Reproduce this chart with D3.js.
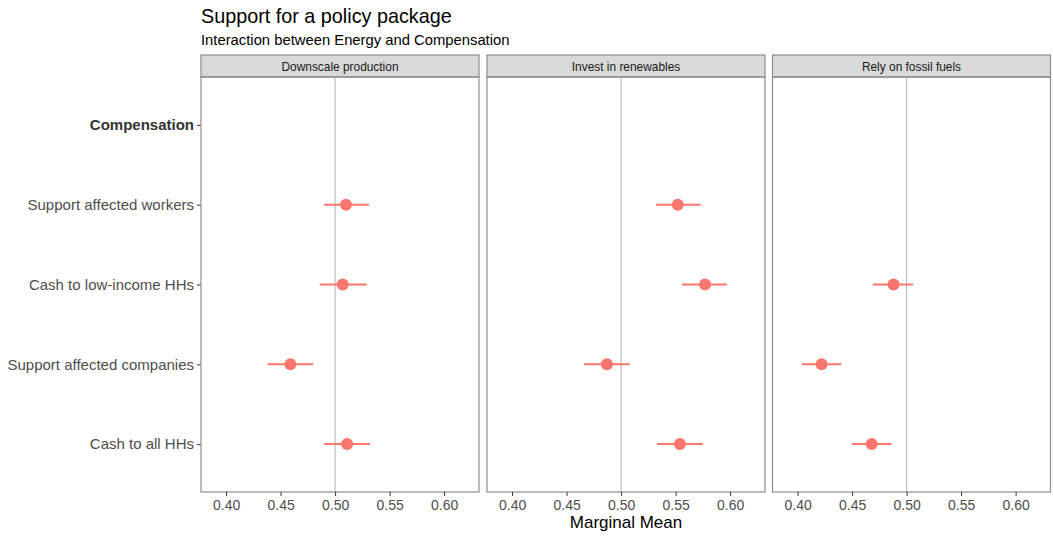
<!DOCTYPE html>
<html><head><meta charset="utf-8">
<script src="https://cdn.jsdelivr.net/npm/d3@7"></script>
<style>body{margin:0;background:#fff;} svg{display:block;font-family:"Liberation Sans",Arial,Helvetica,sans-serif;}</style>
</head><body><svg id="c" width="1053" height="536"></svg>
<script>
const levels = ["Compensation","Support affected workers","Cash to low-income HHs","Support affected companies","Cash to all HHs"];
const panels = ["Downscale production","Invest in renewables","Rely on fossil fuels"];
const estimate = [
  [null, 0.510, 0.507, 0.459, 0.511],
  [null, 0.552, 0.577, 0.487, 0.554],
  [null, null, 0.488, 0.422, 0.468]
];
const lower = [
  [null, 0.490, 0.486, 0.438, 0.490],
  [null, 0.532, 0.556, 0.466, 0.533],
  [null, null, 0.469, 0.404, 0.450]
];
const upper = [
  [null, 0.531, 0.529, 0.480, 0.532],
  [null, 0.573, 0.597, 0.508, 0.575],
  [null, null, 0.506, 0.440, 0.486]
];
const xTicks = [0.40, 0.45, 0.50, 0.55, 0.60];
const refValue = 0.5;

const svg = d3.select("#c");
const panelLeft = [201, 487, 772.5], panelW = 278;
const pTop = 77, pBottom = 492, stripTop = 55;
const col = "#F8766D";

svg.append("text").attr("x",201).attr("y",23).attr("font-size",19.8).attr("fill","#000").text("Support for a policy package");
svg.append("text").attr("x",201).attr("y",44.5).attr("font-size",14.8).attr("fill","#000").text("Interaction between Energy and Compensation");

const y = d3.scalePoint().domain(levels).range([pTop, pBottom]).padding(0.6);

const yAxis = svg.append("g").attr("transform",`translate(${panelLeft[0]},0)`)
  .call(d3.axisLeft(y).tickSize(4).tickPadding(3));
yAxis.select(".domain").remove();
yAxis.selectAll("line").attr("stroke","#333");
yAxis.selectAll("text").attr("font-size",15)
  .attr("font-weight",d=>d==="Compensation"?"bold":"normal")
  .attr("fill",d=>d==="Compensation"?"#333":"#4d4d4d");

panels.forEach((p,i)=>{
  const x = d3.scaleLinear().domain([0.377,0.632]).range([panelLeft[i], panelLeft[i]+panelW]);
  const g = svg.append("g");
  g.append("rect").attr("x",panelLeft[i]).attr("y",stripTop).attr("width",panelW).attr("height",pTop-stripTop)
    .attr("fill","#d9d9d9").attr("stroke","#8c8c8c").attr("stroke-width",1.2);
  g.append("text").attr("x",panelLeft[i]+panelW/2).attr("y",70.5).attr("text-anchor","middle")
    .attr("font-size",11.9).attr("fill","#1a1a1a").text(p);
  g.append("line").attr("x1",x(refValue)).attr("x2",x(refValue)).attr("y1",pTop).attr("y2",pBottom)
    .attr("stroke","#bdbdbd").attr("stroke-width",1.2);
  levels.forEach((l,j)=>{
    if(estimate[i][j]==null) return;
    g.append("line").attr("x1",x(lower[i][j])).attr("x2",x(upper[i][j])).attr("y1",y(l)).attr("y2",y(l))
      .attr("stroke",col).attr("stroke-width",2);
    g.append("circle").attr("cx",x(estimate[i][j])).attr("cy",y(l)).attr("r",6).attr("fill",col);
  });
  g.append("rect").attr("x",panelLeft[i]).attr("y",pTop).attr("width",panelW).attr("height",pBottom-pTop)
    .attr("fill","none").attr("stroke","#8c8c8c").attr("stroke-width",1.2);
  const ax = svg.append("g").attr("transform",`translate(0,${pBottom})`)
    .call(d3.axisBottom(x).tickValues(xTicks).tickFormat(d3.format(".2f")).tickSize(4).tickPadding(4));
  ax.select(".domain").remove();
  ax.selectAll("line").attr("stroke","#333");
  ax.selectAll("text").attr("font-size",14).attr("fill","#4d4d4d");
});

svg.append("text").attr("x",panelLeft[1]+panelW/2).attr("y",528).attr("text-anchor","middle")
  .attr("font-size",17).attr("fill","#000").text("Marginal Mean");
</script></body></html>
